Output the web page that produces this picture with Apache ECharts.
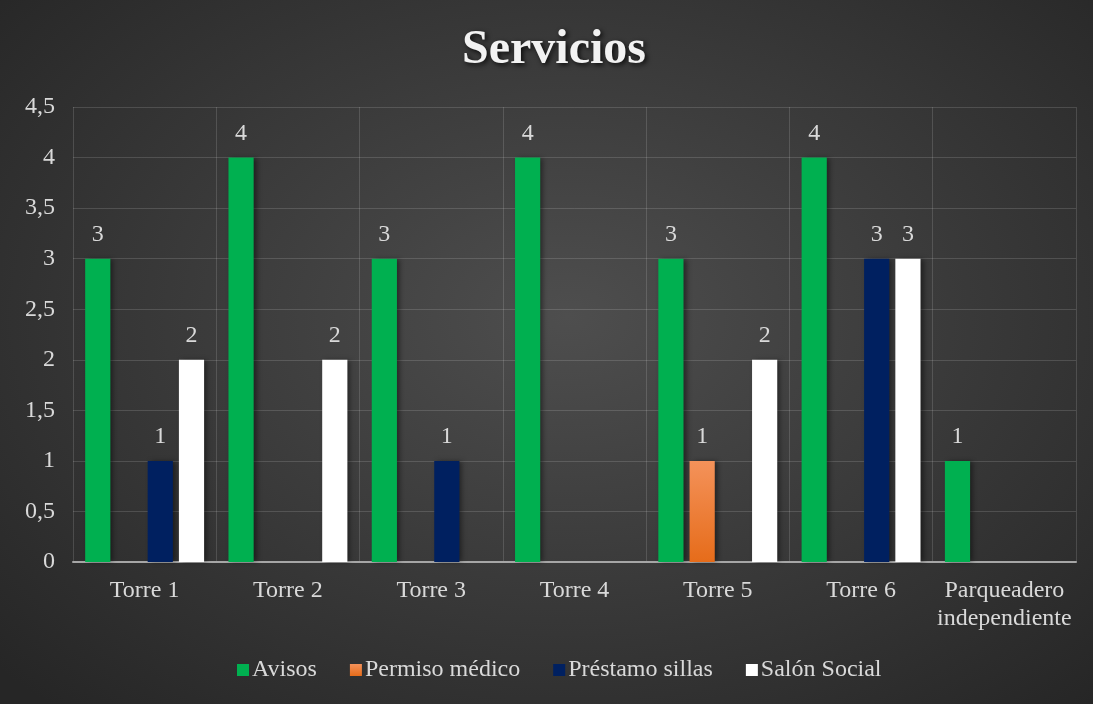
<!DOCTYPE html>
<html>
<head>
<meta charset="utf-8">
<script src="https://cdn.jsdelivr.net/npm/echarts@6/dist/echarts.min.js"></script>
<style>
  html, body { margin: 0; padding: 0; background: #fff; }
  #chart {
    width: 1093px; height: 704px;
    background: radial-gradient(ellipse 70% 75% at 52% 45%, #4e4e4e 0%, #3a3a3a 50%, #262626 100%);
  }
</style>
</head>
<body>
<div id="chart"></div>
<script>
var categories = ["Torre 1", "Torre 2", "Torre 3", "Torre 4", "Torre 5", "Torre 6", "Parqueadero\nindependiente"];
var avisos = [3, 4, 3, 4, 3, 4, 1];
var permisoMedico = [null, null, null, null, 1, null, null];
var prestamoSillas = [1, null, 1, null, null, 3, null];
var salonSocial = [2, 2, null, null, 2, 3, null];
var yTicks = [0, 0.5, 1, 1.5, 2, 2.5, 3, 3.5, 4, 4.5];

var font = "'Liberation Serif', 'Times New Roman', serif";
var textColor = "#d9d9d9";

function makeSeries(name, data, color) {
  return {
    name: name,
    type: "bar",
    data: data,
    barGap: "24%",
    barCategoryGap: "17%",
    itemStyle: {
      color: color,
      shadowColor: "rgba(0,0,0,0.45)",
      shadowBlur: 5,
      shadowOffsetX: 3
    },
    label: {
      show: true,
      position: "top",
      distance: 12,
      color: textColor,
      fontFamily: font,
      fontSize: 24
    }
  };
}

var chart = echarts.init(document.getElementById("chart"));
chart.setOption({
  backgroundColor: "transparent",
  title: {
    text: "Servicios",
    left: 457,
    top: 22,
    textStyle: {
      fontFamily: font,
      fontWeight: "bold",
      fontSize: 48,
      color: "#f2f2f2",
      textShadowColor: "rgba(0,0,0,0.8)",
      textShadowBlur: 5,
      textShadowOffsetX: 2,
      textShadowOffsetY: 2
    }
  },
  legend: {
    bottom: 17,
    left: 232,
    itemWidth: 12,
    itemHeight: 12,
    itemGap: 33,
    icon: "rect",
    textStyle: { color: textColor, fontFamily: font, fontSize: 24, padding: [0, 0, 0, -2] },
    data: ["Avisos", "Permiso médico", "Préstamo sillas", "Salón Social"]
  },
  grid: { left: 73, right: 17, top: 107, bottom: 142 },
  xAxis: {
    type: "category",
    data: categories,
    axisLine: { lineStyle: { color: "#a6a6a6", width: 2 } },
    axisTick: { show: false },
    splitLine: { show: true, lineStyle: { color: "rgba(255,255,255,0.14)", width: 1 } },
    axisLabel: {
      color: textColor, fontFamily: font, fontSize: 24, lineHeight: 28, margin: 15,
      interval: 0
    }
  },
  yAxis: {
    type: "value",
    min: yTicks[0],
    max: yTicks[yTicks.length - 1],
    interval: 0.5,
    axisLine: { show: false },
    axisTick: { show: false },
    splitLine: { lineStyle: { color: "rgba(255,255,255,0.14)", width: 1 } },
    axisLabel: {
      color: textColor, fontFamily: font, fontSize: 24, margin: 18,
      formatter: function (v) { return String(v).replace(".", ","); }
    }
  },
  series: [
    makeSeries("Avisos", avisos, "#00b050"),
    makeSeries("Permiso médico", permisoMedico, {
      type: "linear", x: 0, y: 0, x2: 0, y2: 1,
      colorStops: [{ offset: 0, color: "#f4925a" }, { offset: 1, color: "#e66c1a" }]
    }),
    makeSeries("Préstamo sillas", prestamoSillas, "#002060"),
    makeSeries("Salón Social", salonSocial, "#ffffff")
  ]
});
</script>
</body>
</html>
